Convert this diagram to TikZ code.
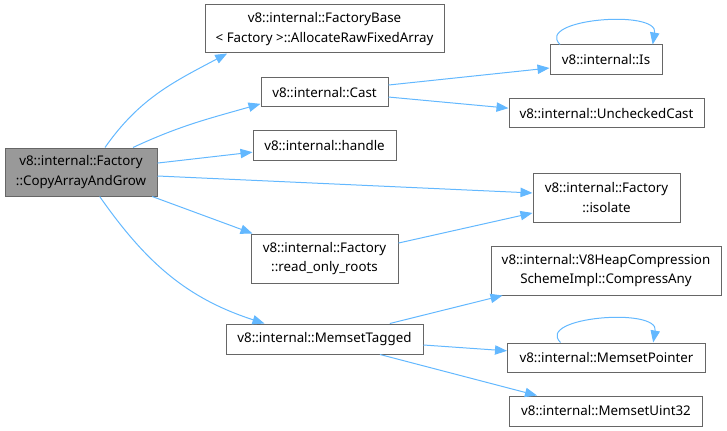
\documentclass[tikz,border=0pt]{standalone}
\usepackage{fontspec}
\setmainfont{Noto Sans}
\usepackage{xcolor}
\usepackage{tikz}
\usetikzlibrary{arrows.meta}
\definecolor{callblue}{HTML}{63B8FF}
\definecolor{grey40}{HTML}{666666}
\definecolor{grey60}{HTML}{999999}
\tikzset{
  fnbox/.style={
    rectangle, draw=grey40, fill=white, line width=0.75pt,
    font=\fontsize{10}{14.5}\selectfont, align=center,
    inner sep=0pt
  },
  rootbox/.style={fnbox, fill=grey60},
  callarrow/.style={
    -{Triangle[length=9pt,width=7pt]}, line width=0.75pt, color=callblue
  },
}
\begin{document}
\begin{tikzpicture}[x=0.75pt,y=0.75pt]
\useasboundingbox (0,0) rectangle (727,-431);
% caller
\node[rootbox, minimum width=152*0.75pt, minimum height=48*0.75pt] (copy-grow) at (81,-172) {v8::internal::Factory\\::CopyArrayAndGrow};
% first level
\node[fnbox, minimum width=239*0.75pt, minimum height=48*0.75pt] (alloc-raw) at (324.5,-29) {v8::internal::FactoryBase\\\textless{} Factory \textgreater::AllocateRawFixedArray};
\node[fnbox, minimum width=127*0.75pt, minimum height=29*0.75pt] (cast) at (324.5,-92.5) {v8::internal::Cast};
\node[fnbox, minimum width=143*0.75pt, minimum height=29*0.75pt] (handle) at (324.5,-145.5) {v8::internal::handle};
\node[fnbox, minimum width=147*0.75pt, minimum height=49*0.75pt] (ro-roots) at (324.5,-258.5) {v8::internal::Factory\\::read\_only\_roots};
\node[fnbox, minimum width=197*0.75pt, minimum height=30*0.75pt] (memset-tagged) at (324.5,-339) {v8::internal::MemsetTagged};
% second level
\node[fnbox, minimum width=112*0.75pt, minimum height=30*0.75pt] (is) at (606,-60) {v8::internal::Is};
\node[fnbox, minimum width=195*0.75pt, minimum height=29*0.75pt] (unchecked) at (606.5,-113.5) {v8::internal::UncheckedCast};
\node[fnbox, minimum width=147*0.75pt, minimum height=49*0.75pt] (isolate) at (606.5,-197.5) {v8::internal::Factory\\::isolate};
\node[fnbox, minimum width=230*0.75pt, minimum height=49*0.75pt] (compress-any) at (606,-270.5) {v8::internal::V8HeapCompression\\SchemeImpl::CompressAny};
\node[fnbox, minimum width=198*0.75pt, minimum height=29*0.75pt] (memset-ptr) at (606.5,-357.5) {v8::internal::MemsetPointer};
\node[fnbox, minimum width=193*0.75pt, minimum height=30*0.75pt] (memset-u32) at (606,-411) {v8::internal::MemsetUint32};
% calls from CopyArrayAndGrow
\draw[callarrow] ([xshift=18pt]copy-grow.north) to[out=55, in=208] ([xshift=-73pt]alloc-raw.south);
\draw[callarrow] ([xshift=39pt]copy-grow.north) to[out=25, in=196] ([yshift=-8.5pt]cast.west);
\draw[callarrow] ([yshift=6.7pt]copy-grow.east) -- ([yshift=-5pt]handle.west);
\draw[callarrow] ([yshift=-3pt]copy-grow.east) -- ([yshift=3.4pt]isolate.west);
\draw[callarrow] ([xshift=-4pt]copy-grow.south east) -- ([xshift=1.5pt]ro-roots.north west);
\draw[callarrow] ([xshift=14pt]copy-grow.south) to[out=-55, in=162] ([xshift=-45pt]memset-tagged.north);
% second level calls
\draw[callarrow] ([yshift=5.6pt]cast.east) -- ([yshift=-6pt]is.west);
\draw[callarrow] ([yshift=-3.4pt]cast.east) -- ([yshift=4pt]unchecked.west);
\draw[callarrow] ([yshift=11.6pt]ro-roots.east) -- ([yshift=-11.6pt]isolate.west);
\draw[callarrow] ([xshift=49pt]memset-tagged.north) -- ([xshift=9pt]compress-any.south west);
\draw[callarrow] ([yshift=-4.5pt]memset-tagged.east) -- ([yshift=5pt]memset-ptr.west);
\draw[callarrow] ([xshift=41.6pt]memset-tagged.south) -- ([xshift=21pt]memset-u32.north west);
% recursive calls
\draw[callarrow] ([xshift=-34.5pt]is.north) to[out=135, in=80] ([xshift=35pt]is.north);
\draw[callarrow] ([xshift=-34.5pt]memset-ptr.north) to[out=135, in=80] ([xshift=35pt]memset-ptr.north);
\end{tikzpicture}
\end{document}
